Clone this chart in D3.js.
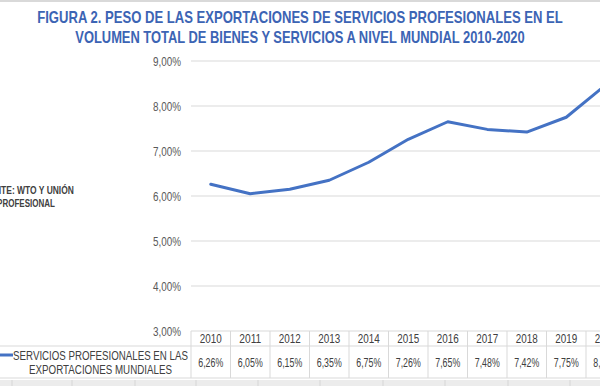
<!DOCTYPE html>
<html><head><meta charset="utf-8">
<script src="https://cdn.jsdelivr.net/npm/d3@7"></script>
<style>
html,body{margin:0;padding:0;background:#fff;}
svg{display:block;}
</style></head>
<body>
<svg id="c" width="600" height="386"></svg>
<script>
const years = ["2010","2011","2012","2013","2014","2015","2016","2017","2018","2019","2020"];
const values = [6.26,6.05,6.15,6.35,6.75,7.26,7.65,7.48,7.42,7.75,8.47];
const yTicks = [3,4,5,6,7,8,9];
const titleLines = ["FIGURA 2. PESO DE LAS EXPORTACIONES DE SERVICIOS PROFESIONALES EN EL","VOLUMEN TOTAL DE BIENES Y SERVICIOS A NIVEL MUNDIAL 2010-2020"];
const seriesLabel = ["SERVICIOS PROFESIONALES EN LAS","EXPORTACIONES MUNDIALES"];
const sourceLines = ["FUENTE: WTO Y UNIÓN","PROFESIONAL"];

const font = "'Liberation Sans',Arial,sans-serif";
const svg = d3.select("#c");
const left = 191, colW = 39.5;
const x = d3.scaleBand().domain(years).range([left, left + colW*years.length]).padding(0);
const y = d3.scaleLinear().domain([3,9]).range([331,61]);
const fmt = v => v.toFixed(2).replace(".", ",") + "%";

// horizontally condense text: place at (px,py) and scale to width w
function squeeze(sel, px, py, w) {
  sel.each(function(d,i){
    const t = d3.select(this);
    const nat = this.getComputedTextLength();
    const s = Math.min(1, w(d,i)/nat);
    t.attr("x",0).attr("y",0)
     .attr("transform",`translate(${px(d,i)},${py(d,i)}) scale(${s},1)`);
  });
}

// top border line
svg.append("line").attr("x1",0).attr("x2",600).attr("y1",1).attr("y2",1).attr("stroke","#d9d9d9").attr("stroke-width",2);

// title
svg.append("g").selectAll("text").data(titleLines).join("text")
  .attr("text-anchor","middle")
  .attr("font-family",font).attr("font-weight","bold").attr("font-size",16.5)
  .attr("fill","#3c64b4").text(d=>d)
  .call(squeeze, ()=>300, (d,i)=>23+i*20, (d,i)=>i===0?526:450);

// gridlines
svg.append("g").selectAll("line").data(yTicks.filter(t=>t>3)).join("line")
  .attr("x1",left).attr("x2",640).attr("y1",d=>y(d)).attr("y2",d=>y(d))
  .attr("stroke","#d9d9d9").attr("stroke-width",1);

// y axis labels
const yAxis = d3.axisLeft(y).tickValues(yTicks).tickFormat(fmt).tickSize(0).tickPadding(10);
const ga = svg.append("g").attr("transform",`translate(${left},0)`).call(yAxis);
ga.select(".domain").remove();
ga.selectAll("text").attr("font-family",font).attr("font-size",12.5).attr("fill","#595959")
  .attr("dy",null)
  .call(squeeze, ()=>-10, ()=>4.3, ()=>28);

// line
const line = d3.line().x((d,i)=>x(years[i])+colW/2).y(d=>y(d));
svg.append("path").datum(values).attr("d",line).attr("fill","none")
  .attr("stroke","#4472c4").attr("stroke-width",3).attr("stroke-linejoin","round").attr("stroke-linecap","round");

// source text
svg.append("g").selectAll("text").data(sourceLines).join("text")
  .attr("text-anchor","middle")
  .attr("font-family",font).attr("font-weight","bold").attr("font-size",11.5)
  .attr("fill","#404040").text(d=>d)
  .call(squeeze, ()=>26, (d,i)=>194+i*13, (d,i)=>i===0?96:58);

// table
const tTop = 331, tMid = 346, tBot = 378;
const tg = svg.append("g");
tg.append("line").attr("x1",left).attr("x2",640).attr("y1",tTop).attr("y2",tTop).attr("stroke","#d9d9d9");
tg.append("line").attr("x1",0).attr("x2",640).attr("y1",tMid).attr("y2",tMid).attr("stroke","#d9d9d9");
tg.append("line").attr("x1",0).attr("x2",640).attr("y1",tBot).attr("y2",tBot).attr("stroke","#d9d9d9");
tg.selectAll("line.v").data(years.concat(["end"])).join("line").attr("class","v")
  .attr("x1",(d,i)=>left+i*colW).attr("x2",(d,i)=>left+i*colW)
  .attr("y1",tTop).attr("y2",tBot).attr("stroke","#d9d9d9");
tg.selectAll("text.yr").data(years).join("text").attr("class","yr")
  .attr("text-anchor","middle")
  .attr("font-family",font).attr("font-size",13).attr("fill","#404040").text(d=>d)
  .call(squeeze, d=>x(d)+colW/2, ()=>343, ()=>22);
tg.selectAll("text.val").data(values).join("text").attr("class","val")
  .attr("text-anchor","middle")
  .attr("font-family",font).attr("font-size",13).attr("fill","#404040").text(d=>fmt(d))
  .call(squeeze, (d,i)=>x(years[i])+colW/2, ()=>366.5, ()=>25);

// series label + legend key
tg.append("line").attr("x1",0).attr("x2",13).attr("y1",355).attr("y2",355)
  .attr("stroke","#4472c4").attr("stroke-width",3);
tg.selectAll("text.lab").data(seriesLabel).join("text").attr("class","lab")
  .attr("text-anchor","middle")
  .attr("font-family",font).attr("font-size",13).attr("fill","#404040").text(d=>d)
  .call(squeeze, ()=>100.5, (d,i)=>359.5+i*14, (d,i)=>i===0?175:143);

// bottom gray band
const bg = svg.append("g");
bg.append("rect").attr("x",0).attr("y",380).attr("width",600).attr("height",6).attr("fill","#ececec");
bg.selectAll("line").data([12,72,135,196,258,320,383,445,508,570]).join("line")
  .attr("x1",d=>d).attr("x2",d=>d).attr("y1",380).attr("y2",386).attr("stroke","#d6d6d6");
</script>
</body></html>
